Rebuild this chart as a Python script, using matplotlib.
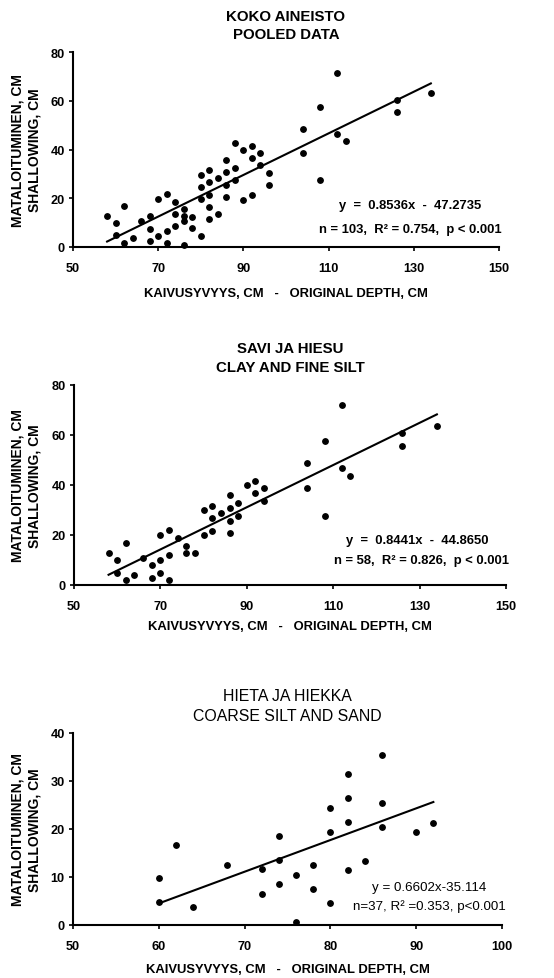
import matplotlib
matplotlib.use('Agg')
import matplotlib.pyplot as plt
import numpy as np

plt.rcParams['font.family'] = ['Liberation Sans', 'DejaVu Sans']

W, H = 554, 979

# ---------------- data ----------------
pooled_x = [58, 60, 60, 62, 62, 64, 66, 68, 68, 68, 70, 70, 72, 72, 72, 74, 74, 74, 76, 76, 76, 76,
            78, 78, 80, 80, 80, 80, 82, 82, 82, 82, 82, 84, 84, 86, 86, 86, 86, 88, 88, 88, 90, 90,
            92, 92, 92, 94, 94, 96, 96, 104, 104, 108, 108, 112, 112, 114, 126, 126, 134]
pooled_y = [12.7, 9.7, 4.8, 16.8, 1.8, 3.7, 10.7, 12.7, 7.5, 2.6, 19.7, 4.5, 21.6, 6.6, 1.6, 18.6,
            13.7, 8.5, 15.7, 12.7, 10.7, 0.7, 12.4, 7.7, 29.5, 24.6, 19.7, 4.7, 31.6, 26.5, 21.5,
            16.5, 11.5, 28.5, 13.5, 35.6, 30.6, 25.6, 20.7, 42.7, 32.6, 27.5, 39.7, 19.4, 41.6,
            36.4, 21.3, 38.6, 33.7, 30.5, 25.6, 48.6, 38.4, 57.5, 27.4, 71.4, 46.5, 43.4, 60.2,
            55.3, 63.2]

clay_x = [58, 60, 60, 62, 62, 64, 66, 68, 68, 70, 70, 70, 72, 72, 72, 74, 76, 76, 78, 80, 80, 82,
          82, 82, 84, 86, 86, 86, 86, 88, 88, 90, 92, 92, 94, 94, 104, 104, 108, 108, 112, 112,
          114, 126, 126, 134]
clay_y = [12.9, 10.1, 4.9, 17, 2, 4, 10.9, 8, 2.9, 20, 10, 4.8, 22, 12, 1.9, 18.9, 15.8, 12.9,
          12.9, 30, 20, 31.8, 26.9, 21.8, 28.9, 36, 30.9, 25.8, 20.8, 32.9, 27.8, 39.9, 41.8,
          36.9, 38.9, 33.8, 48.9, 38.7, 57.8, 27.7, 72, 46.9, 43.8, 60.7, 55.8, 63.8]

sand_x = [60, 60, 62, 64, 68, 72, 72, 74, 74, 74, 76, 76, 78, 78, 80, 80, 80, 82, 82, 82, 82, 84,
          86, 86, 86, 90, 92]
sand_y = [9.7, 4.8, 16.7, 3.7, 12.6, 11.7, 6.5, 18.5, 13.6, 8.6, 10.4, 0.6, 12.5, 7.6, 24.4, 19.4,
          4.5, 31.4, 26.4, 21.4, 11.5, 13.4, 35.4, 25.4, 20.4, 19.3, 21.3]

slopes = [0.8536, 0.8441, 0.6602]
intercepts = [-47.2735, -44.8650, -35.114]

titles = ["KOKO AINEISTO\nPOOLED DATA",
          "SAVI JA HIESU\nCLAY AND FINE SILT",
          "HIETA JA HIEKKA\nCOARSE SILT AND SAND"]
eq_texts = [("y  =  0.8536x  -  47.2735", "n = 103,  R\u00b2 = 0.754,  p < 0.001"),
            ("y  =  0.8441x  -  44.8650", "n = 58,  R\u00b2 = 0.826,  p < 0.001"),
            ("y = 0.6602x-35.114", "n=37, R\u00b2 =0.353, p<0.001")]
xlabel = "KAIVUSYVYYS, CM   -   ORIGINAL DEPTH, CM"
ylabel = "MATALOITUMINEN, CM\nSHALLOWING, CM"

xticks_list = [[50, 70, 90, 110, 130, 150], [50, 70, 90, 110, 130, 150], [50, 60, 70, 80, 90, 100]]
yticks_list = [[0, 20, 40, 60, 80], [0, 20, 40, 60, 80], [0, 10, 20, 30, 40]]
xlims = [(50, 150), (50, 150), (50, 100)]
ylims = [(0, 80), (0, 80), (0, 40)]

# ---------------- layout (pixels) ----------------
rects = [(73, 499, 53, 248), (74, 506, 386, 586), (73, 502, 734, 926)]
title_y = [26, 358.5, 706.5]
xlabel_y = [294, 627, 970]
eq_pos = [((129.1, 17.2), (129.1, 7.4)), ((129.4, 18.0), (130.5, 10.0)), ((91.5, 7.9), (91.5, 4.0))]
weights = ['bold', 'bold', 'normal']
title_sizes = [10.8, 10.8, 11.4]
eq_sizes = [9.4, 9.4, 9.6]

fig = plt.figure(figsize=(W / 100, H / 100), dpi=100)

datasets = [(pooled_x, pooled_y), (clay_x, clay_y), (sand_x, sand_y)]

for i, (xs, ys) in enumerate(datasets):
    l, r, t, b = rects[i]
    ax = fig.add_axes([l / W, 1 - b / H, (r - l) / W, (b - t) / H])
    ax.plot(xs, ys, 'o', color='black', ms=3.9, clip_on=False, zorder=3)
    xr = np.array([min(xs), max(xs)])
    ax.plot(xr, slopes[i] * xr + intercepts[i], color='black', lw=1.5, zorder=2)
    ax.set_xlim(*xlims[i])
    ax.set_ylim(*ylims[i])
    ax.set_xticks(xticks_list[i])
    ax.set_yticks(yticks_list[i])
    for s in ['top', 'right']:
        ax.spines[s].set_visible(False)
    for s in ['left', 'bottom']:
        ax.spines[s].set_linewidth(1.5)
    ax.tick_params(axis='x', direction='out', length=3, width=1.2, pad=8, labelsize=9.2)
    ax.tick_params(axis='y', direction='out', length=3, width=1.2, pad=3, labelsize=9.2)
    for lab in ax.get_xticklabels() + ax.get_yticklabels():
        lab.set_fontweight('bold')
    cx = (l + r) / 2 / W
    fig.text(cx, 1 - title_y[i] / H, titles[i], ha='center', va='center', fontsize=title_sizes[i],
             fontweight=weights[i], linespacing=1.38)
    fig.text(cx, 1 - xlabel_y[i] / H, xlabel, ha='center', va='center', fontsize=9.4,
             fontweight='bold')
    fig.text(26 / W, 1 - (t + b) / 2 / H, ylabel, ha='center', va='center', rotation=90,
             fontsize=10, fontweight='bold', linespacing=1.2)
    (x1, y1), (x2, y2) = eq_pos[i]
    ax.text(x1, y1, eq_texts[i][0], ha='center', va='center', fontsize=eq_sizes[i],
            fontweight=weights[i])
    ax.text(x2, y2, eq_texts[i][1], ha='center', va='center', fontsize=eq_sizes[i],
            fontweight=weights[i])

fig.savefig('out.png', dpi=100)
